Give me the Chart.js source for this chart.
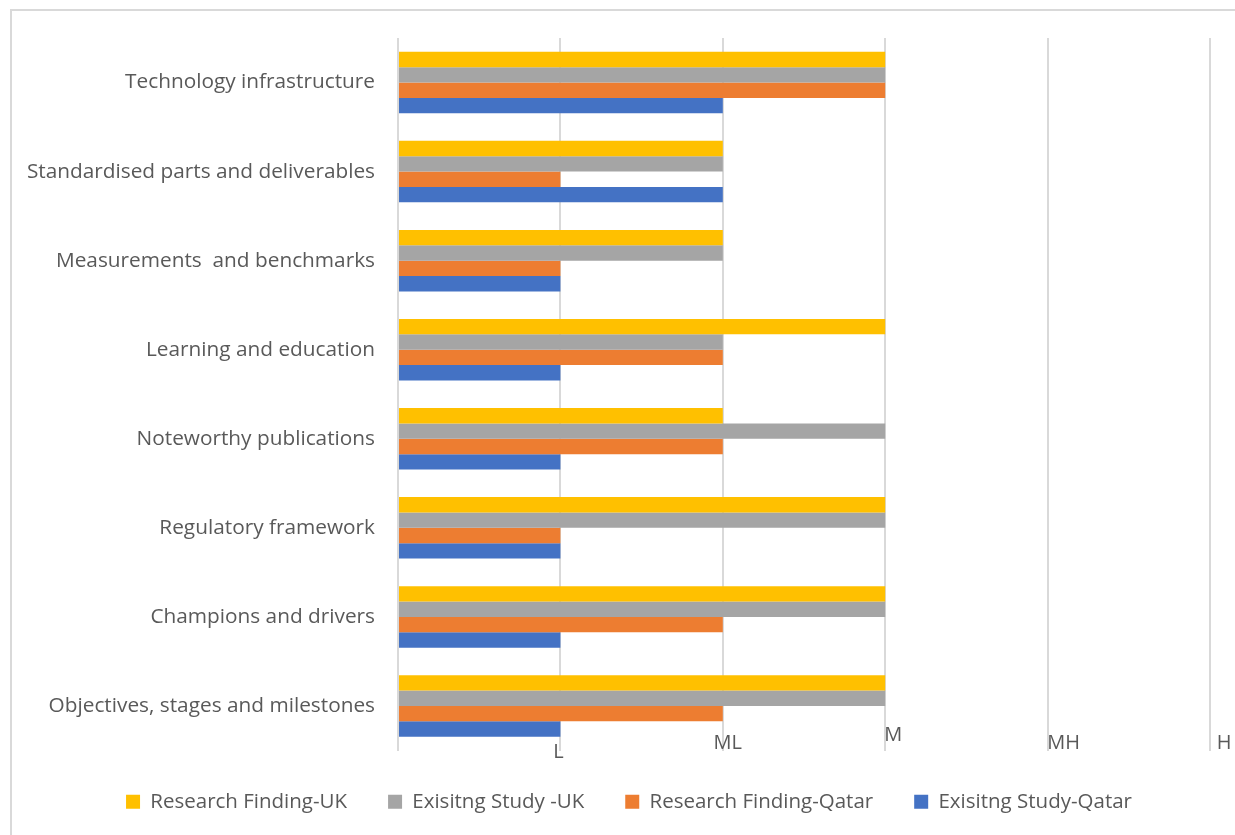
<!DOCTYPE html>
<html>
<head>
<meta charset="utf-8">
<script src="https://cdn.jsdelivr.net/npm/chart.js@4"></script>
<style>
    body { margin: 0; background: #fff; overflow: hidden; }
    #wrap { position: relative; width: 1235px; height: 835px; }
    #frame { position: absolute; left: 10px; top: 9px; width: 1300px; height: 900px; border: 2px solid #d9d9d9; box-sizing: border-box; }
    canvas { position: absolute; left: 0; top: 0; }
</style>
</head>
<body>
<div id="wrap">
    <div id="frame"></div>
    <canvas id="chart" width="1235" height="835"></canvas>
</div>
<script>
const categories = [
    'Technology infrastructure',
    'Standardised parts and deliverables',
    'Measurements  and benchmarks',
    'Learning and education',
    'Noteworthy publications',
    'Regulatory framework',
    'Champions and drivers',
    'Objectives, stages and milestones'
];
const tickLabels = ['', 'L', 'ML', 'M', 'MH', 'H'];

const researchUK = [3, 2, 2, 3, 2, 3, 3, 3];
const existingUK = [3, 2, 2, 2, 3, 3, 3, 3];
const researchQatar = [3, 1, 1, 2, 2, 1, 2, 2];
const existingQatar = [2, 2, 1, 1, 1, 1, 1, 1];

// tick labels in the original sit at odd offsets, draw them by hand
const tickOffsets = [
    { dx: 0, dy: 0 },
    { dx: -2, dy: 16 },
    { dx: 5, dy: 7 },
    { dx: 8, dy: -1 },
    { dx: 16, dy: 7 },
    { dx: 14, dy: 7 }
];

const tickPlugin = {
    id: 'tickPlugin',
    afterLayout(chart) {
        // legend sits a little right of centre in the original
        chart.legend.left += 18;
        chart.legend.right += 18;
    },
    afterDraw(chart) {
        const ctx = chart.ctx;
        const xs = chart.scales.x;
        ctx.save();
        ctx.font = '20px "Open Sans", sans-serif';
        ctx.fillStyle = '#595959';
        ctx.textAlign = 'center';
        ctx.textBaseline = 'middle';
        tickLabels.forEach((t, i) => {
            if (!t) return;
            const x = xs.getPixelForValue(i) + tickOffsets[i].dx;
            ctx.fillText(t, x, 736 + tickOffsets[i].dy);
        });
        ctx.restore();
    }
};

new Chart(document.getElementById('chart'), {
    type: 'bar',
    data: {
        labels: categories,
        datasets: [
            { label: 'Research Finding-UK', data: researchUK, backgroundColor: '#FFC000' },
            { label: 'Exisitng Study -UK', data: existingUK, backgroundColor: '#A5A5A5' },
            { label: 'Research Finding-Qatar', data: researchQatar, backgroundColor: '#ED7D31' },
            { label: 'Exisitng Study-Qatar', data: existingQatar, backgroundColor: '#4472C4' }
        ]
    },
    options: {
        indexAxis: 'y',
        responsive: false,
        animation: false,
        layout: {
            padding: { top: 38, right: 25, bottom: 13, left: 12 }
        },
        datasets: {
            bar: { barPercentage: 1, categoryPercentage: 0.69 }
        },
        plugins: {
            legend: {
                position: 'bottom',
                labels: {
                    boxWidth: 14,
                    boxHeight: 14,
                    padding: 41,
                    color: '#595959',
                    font: { family: '"Open Sans", sans-serif', size: 20.5 }
                }
            },
            tooltip: { enabled: false }
        },
        scales: {
            x: {
                min: 0,
                max: 5,
                ticks: { stepSize: 1, display: false },
                grid: { color: '#d9d9d9', lineWidth: 2, drawTicks: false },
                border: { display: false }
            },
            y: {
                afterFit(scale) { scale.width = 386; },
                ticks: {
                    color: '#595959',
                    padding: 15,
                    font: { family: '"Open Sans", sans-serif', size: 20.8 }
                },
                grid: { display: false },
                border: { display: false }
            }
        }
    },
    plugins: [tickPlugin]
});
</script>
</body>
</html>
